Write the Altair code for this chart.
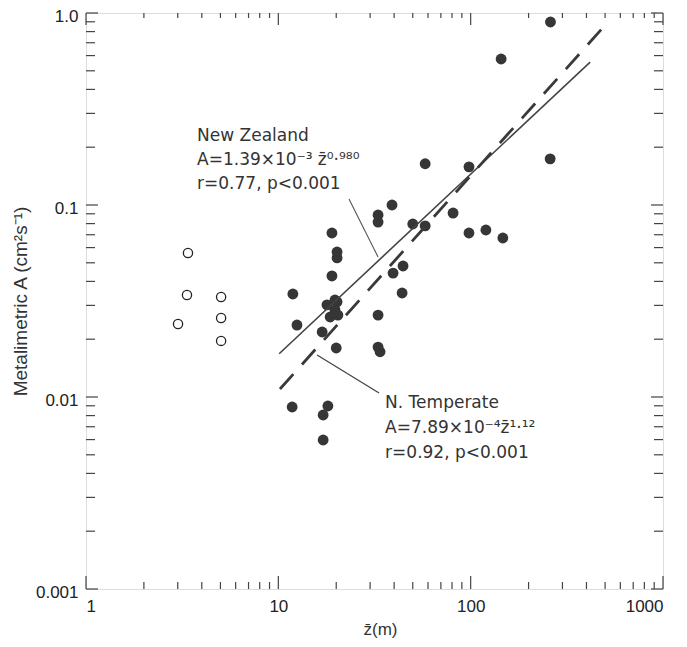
import altair as alt
import pandas as pd

# ---- data ----
# filled circles (z-bar in m, metalimnetic A)
filled_x = [260, 144, 259, 98, 58, 39, 33, 33, 81, 50, 58, 98, 120, 147, 19, 20.2, 20.2, 44.5,
            39.5, 19, 44, 11.9, 19.7, 17.9, 20.2, 18.6, 20.4, 19.7, 33, 12.5, 16.9, 20, 33, 33.8,
            11.8, 18.1, 17.1, 17.1]
filled_y = [0.898, 0.576, 0.174, 0.158, 0.164, 0.100, 0.0887, 0.0815, 0.0908, 0.0796, 0.0778,
            0.0715, 0.0741, 0.0673, 0.0715, 0.0569, 0.053, 0.0481, 0.0442, 0.0427, 0.0348, 0.0344,
            0.032, 0.0302, 0.0313, 0.0261, 0.0267, 0.0284, 0.0267, 0.0237, 0.0218, 0.018, 0.0182,
            0.0172, 0.00887, 0.00898, 0.00806, 0.00597]
# open circles
open_x = [3.39, 3.35, 5.04, 5.04, 5.04, 3.01]
open_y = [0.0562, 0.034, 0.0332, 0.0258, 0.0196, 0.024]

# regression lines (end points as drawn)
nz_line_x = [10.1, 418]
nz_line_y = [0.0168, 0.555]
nt_line_x = [10.2, 512]
nt_line_y = [0.0110, 0.887]

# leader lines
nz_lead_x = [23.3, 33.0]
nz_lead_y = [0.1075, 0.0536]
nt_lead_x = [15.9, 33.4]
nt_lead_y = [0.01655, 0.0105]

# annotation texts
nz_text = ["New Zealand", "A=1.39×10⁻³ z̄⁰·⁹⁸⁰", "r=0.77, p<0.001"]
nz_text_x = [3.78, 3.78, 3.78]
nz_text_y = [0.2155, 0.1616, 0.121]
nt_text = ["N. Temperate", "A=7.89×10⁻⁴z̄¹·¹²", "r=0.92, p<0.001"]
nt_text_x = [35.9, 35.9, 35.9]
nt_text_y = [0.00875, 0.00649, 0.00484]

# axis ticks
x_major = [1, 10, 100, 1000]
x_labels = ["1", "10", "100", "1000"]
x_minor = [2, 3, 4, 5, 6, 7, 8, 9, 20, 30, 40, 50, 60, 70, 80, 90, 200, 300, 400, 500, 600, 700, 800, 900]
y_major = [0.001, 0.01, 0.1, 1.0]
y_labels = ["0.001", "0.01", "0.1", "1.0"]
y_minor = [0.002, 0.003, 0.004, 0.005, 0.006, 0.007, 0.008, 0.009,
           0.02, 0.03, 0.04, 0.05, 0.06, 0.07, 0.08, 0.09,
           0.2, 0.3, 0.4, 0.5, 0.6, 0.7, 0.8, 0.9]

W, H = 577, 576
INK = "#363636"
FRAME = "#444444"

xs = alt.Scale(type="log", domain=[1, 1000], nice=False)
ys = alt.Scale(type="log", domain=[0.001, 1], nice=False)

# label expressions built from the label lists
parts = ""
for v, lab in sorted(zip(y_major, y_labels), reverse=True)[:-1]:
    parts += f"datum.value >= {v * 0.5} ? '{lab}' : "
y_expr = parts + f"'{y_labels[0]}'"
parts = ""
for v, lab in sorted(zip(x_major, x_labels), reverse=True)[:-1]:
    parts += f"datum.value >= {v * 0.5} ? '{lab}' : "
x_expr = parts + f"'{x_labels[0]}'"

x_axis = alt.Axis(values=x_major, labelExpr=x_expr, ticks=False, domain=False, grid=False,
                  tickSize=0, labelPadding=9, labelFont="Liberation Sans", labelFontSize=17,
                  labelColor="#222", title="z̄(m)", titleFont="Liberation Sans",
                  titleFontSize=17, titleFontWeight="normal", titleColor="#333",
                  titleX=294, titleY=49, titleBaseline="bottom")
y_axis = alt.Axis(values=y_major, labelExpr=y_expr, ticks=False, domain=False, grid=False,
                  tickSize=0, labelPadding=8, labelOffset=3, labelFont="Liberation Sans",
                  labelFontSize=17, labelColor="#222", title="Metalimetric A (cm²s⁻¹)",
                  titleFont="Liberation Sans", titleFontSize=19, titleFontWeight="normal",
                  titleColor="#333", titleX=-66, titleY=288, titleAngle=270,
                  titleBaseline="middle")

filled_df = pd.DataFrame({"z": filled_x, "A": filled_y})
open_df = pd.DataFrame({"z": open_x, "A": open_y})

X = alt.X("z:Q", scale=xs)
Y = alt.Y("A:Q", scale=ys)

pts = alt.Chart(filled_df).mark_circle(size=118, color=INK, opacity=1).encode(
    x=alt.X("z:Q", scale=xs, axis=x_axis),
    y=alt.Y("A:Q", scale=ys, axis=y_axis),
)
opts = alt.Chart(open_df).mark_point(shape="circle", size=85, filled=False, color="#222",
                                     strokeWidth=1.3, opacity=1).encode(x=X, y=Y)

def line(xv, yv, **kw):
    df = pd.DataFrame({"z": xv, "A": yv})
    return alt.Chart(df).mark_line(**kw).encode(x=X, y=Y)

nz_line = line(nz_line_x, nz_line_y, color="#444", strokeWidth=1.6)
nt_line = line(nt_line_x, nt_line_y, color="#3a3a3a", strokeWidth=2.8, strokeDash=[20, 13])
nz_lead = line(nz_lead_x, nz_lead_y, color="#555", strokeWidth=1.1)
nt_lead = line(nt_lead_x, nt_lead_y, color="#444", strokeWidth=1.3)

def texts(t, xv, yv):
    df = pd.DataFrame({"t": t, "z": xv, "A": yv})
    return alt.Chart(df).mark_text(align="left", baseline="alphabetic", font="DejaVu Sans",
                                   fontSize=17, color="#333").encode(x=X, y=Y, text="t:N")

nz_txt = texts(nz_text, nz_text_x, nz_text_y)
nt_txt = texts(nt_text, nt_text_x, nt_text_y)

# inward ticks on all four sides
def xticks(vals, y0, y1):
    df = pd.DataFrame({"z": vals})
    return alt.Chart(df).mark_rule(color=FRAME, strokeWidth=1.2).encode(
        x=X, y=alt.value(y0), y2=alt.value(y1))

def yticks(vals, x0, x1):
    df = pd.DataFrame({"A": vals})
    return alt.Chart(df).mark_rule(color=FRAME, strokeWidth=1.2).encode(
        y=Y, x=alt.value(x0), x2=alt.value(x1))

ticks = [
    xticks(x_major, H, H - 13), xticks(x_minor, H, H - 7),
    xticks(x_major, 0, 12), xticks(x_minor, 0, 5),
    yticks(y_major, 0, 12), yticks(y_minor, 0, 9),
    yticks(y_major, W, W - 12), yticks(y_minor, W, W - 9),
]

chart = alt.layer(pts, opts, nz_line, nt_line, nz_lead, nt_lead, nz_txt, nt_txt, *ticks).properties(
    width=W, height=H,
    autosize=alt.AutoSizeParams(type="none"),
    padding={"left": 78, "top": 5, "right": 16, "bottom": 50},
).configure_view(stroke=FRAME, strokeWidth=1.5).configure(background="white")

chart.save("out.html", embed_options={"renderer": "svg", "actions": False})
